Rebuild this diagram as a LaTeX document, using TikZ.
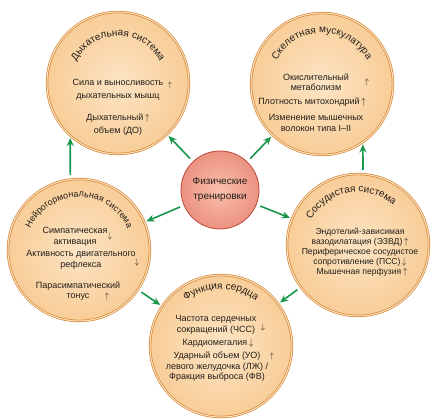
\documentclass[tikz,border=0pt]{standalone}
\usepackage{fontspec}
\setmainfont{Liberation Sans}
\usepackage{tikz}
\usetikzlibrary{arrows.meta,decorations.text}

\definecolor{peachin}{RGB}{252,228,196}
\definecolor{peachmid}{RGB}{248,204,150}
\definecolor{peachout}{RGB}{236,164,88}
\definecolor{peachrim}{RGB}{214,134,56}
\definecolor{peachline}{RGB}{253,226,190}
\definecolor{hubin}{RGB}{249,192,172}
\definecolor{hubout}{RGB}{222,100,84}
\definecolor{hubrim}{RGB}{190,72,58}
\definecolor{leafgreen}{RGB}{24,150,76}
\definecolor{ink}{RGB}{35,30,26}

\pgfdeclareradialshading{peach}{\pgfpoint{0bp}{0bp}}{color(0bp)=(peachin); color(26bp)=(peachmid); color(50bp)=(peachout)}
\pgfdeclareradialshading{hubshade}{\pgfpoint{0bp}{0bp}}{color(0bp)=(hubin); color(50bp)=(hubout)}

\newcommand{\circtitle}{\fontsize{10}{12}\selectfont\color{ink}}
\newcommand{\uparr}{$\uparrow$}
\newcommand{\dnarr}{$\downarrow$}

\begin{document}
\begin{tikzpicture}[x=1pt, y=1pt,
	bubble/.style={circle, minimum size=142pt, inner sep=0pt, shading=peach, draw=peachrim, line width=0.7pt, double=peachline, double distance=1pt},
	hub/.style={circle, minimum size=78pt, inner sep=0pt, shading=hubshade, draw=hubrim, line width=0.8pt, align=center, text=ink, font=\fontsize{10}{15}\selectfont},
	lbl/.style={align=center, text=ink, inner sep=0pt, font=\fontsize{9}{10.5}\selectfont},
	updown/.style={text=ink, inner sep=0pt, font=\fontsize{8}{8}\selectfont},
	link/.style={draw=leafgreen, line width=1.6pt, -{Stealth[length=8pt,width=7pt]}, shorten <=4pt, shorten >=2pt}]
	\useasboundingbox (0,0) rectangle (434,419);

	\node[bubble] (tl) at (118,336) {};
	\node[bubble] (tr) at (322,335) {};
	\node[bubble] (ml) at (79,169) {};
	\node[bubble] (mr) at (358,174) {};
	\node[bubble] (b) at (221,73) {};
	\node[hub] (hub) at (220,229) {Физические\\тренировки};

	% titles
	\path[decorate, decoration={text along path, text align=center, text={|\circtitle|Дыхательная система}}] (tl.center) ++(175:47) arc[start angle=175, end angle=5, radius=47];
	\path[decorate, decoration={text along path, text align=center, text={|\circtitle|Скелетная мускулатура}}] (tr.center) ++(175:51) arc[start angle=175, end angle=5, radius=51];
	\path[decorate, decoration={text along path, text align=center, text={|\circtitle\fontsize{9}{11}\selectfont|Нейрогормональная система}}] (ml.center) ++(178:53) arc[start angle=178, end angle=2, radius=53];
	\path[decorate, decoration={text along path, text align=center, text={|\circtitle|Сосудистая система}}] (mr.center) ++(190:53) arc[start angle=190, end angle=10, radius=53];
	\path[decorate, decoration={text along path, text align=center, text={|\circtitle|Функция сердца}}] (b.center) ++(170:57) arc[start angle=170, end angle=10, radius=57];

	% breathing
	\node[lbl, font=\fontsize{9}{13}\selectfont] (tl-a) at (118,329) {Сила и выносливость\\дыхательных мышц};
	\node[updown] (tl-a-up) at (170,333) {\uparr};
	\node[lbl, font=\fontsize{9}{13}\selectfont] (tl-b) at (118,294) {Дыхательный\,\uparr\\объем (ДО)};
	% muscles
	\node[lbl] (tr-a) at (316,337) {Окислительный\\метаболизм};
	\node[updown] (tr-a-up) at (367,336) {\uparr};
	\node[lbl] (tr-b) at (312,317) {Плотность митохондрий\,\uparr};
	\node[lbl] (tr-c) at (316,296) {Изменение мышечных\\волокон типа I--II};
	% neurohormonal
	\node[lbl] (ml-a) at (75,182) {Симпатическая\\активация};
	\node[updown] (ml-a-dn) at (110,182) {\dnarr};
	\node[lbl] (ml-b) at (81,159) {Активность двигательного\\рефлекса};
	\node[updown] (ml-b-dn) at (137,156) {\dnarr};
	\node[lbl] (ml-c) at (78,128) {Парасимпатический\\тонус};
	\node[updown] (ml-c-up) at (107,122) {\uparr};
	% vessels
	\node[lbl, font=\fontsize{8.6}{9.6}\selectfont] (mr-a) at (360,182) {Эндотелий-зависимая\\вазодилатация (ЭЗВД)\,\uparr};
	\node[lbl, font=\fontsize{8.6}{9.6}\selectfont] (mr-b) at (360,162) {Периферическое сосудистое\\сопротивление (ПСС)\,\dnarr};
	\node[lbl, font=\fontsize{8.6}{9.6}\selectfont] (mr-c) at (362,147) {Мышечная перфузия\,\uparr};
	% heart
	\node[lbl] (b-a) at (216,94) {Частота сердечных\\сокращений (ЧСС)};
	\node[updown] (b-a-dn) at (263,91) {\dnarr};
	\node[lbl] (b-b) at (218,76) {Кардиомегалия\,\dnarr};
	\node[lbl] (b-c) at (217,52) {Ударный объем (УО)\\левого желудочка (ЛЖ) /\\Фракция выброса (ФВ)};
	\node[updown] (b-c-up) at (272,62) {\uparr};

	% arrows
	\draw[link] (hub) -- (tl);
	\draw[link] (hub) -- (tr);
	\draw[link] (hub) -- (ml);
	\draw[link] (hub) -- (mr);
	\draw[link] (ml.97) -- (tl.228);
	\draw[link] (mr.86) -- (tr.305);
	\draw[link] (ml) -- (b);
	\draw[link] (mr) -- (b);
\end{tikzpicture}
\end{document}
